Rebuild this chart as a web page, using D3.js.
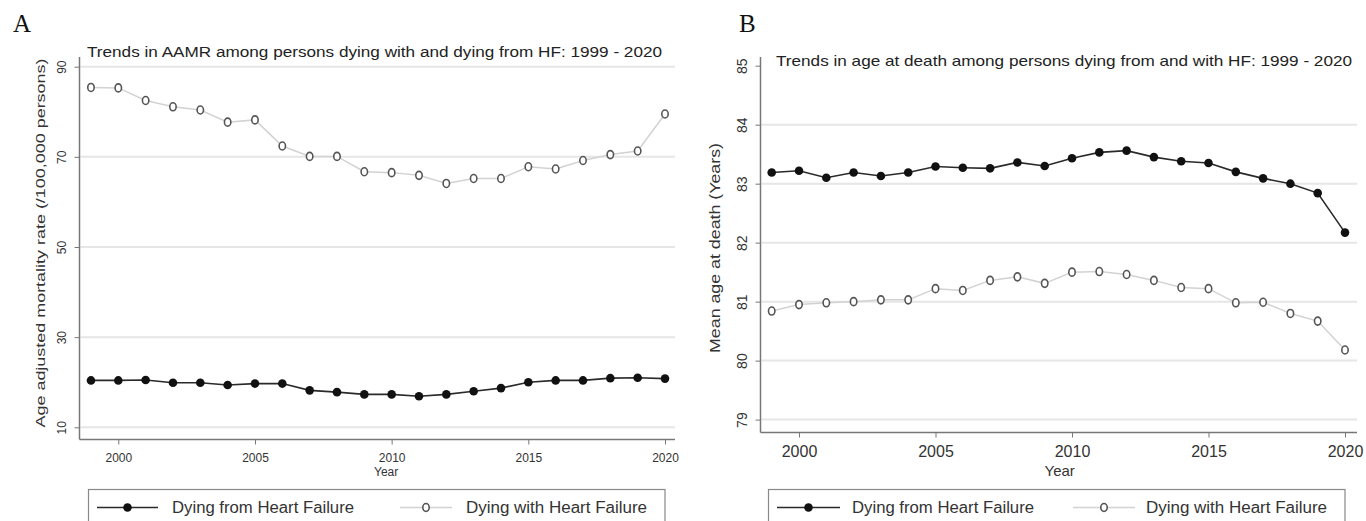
<!DOCTYPE html>
<html>
<head>
<meta charset="utf-8">
<script src="https://cdn.jsdelivr.net/npm/d3@7"></script>
<style>
  html, body { margin: 0; padding: 0; background: #fff; }
  svg { display: block; }
  text { font-family: "Liberation Sans", Arial, Helvetica, sans-serif; fill: #333; }
</style>
</head>
<body>
<svg id="chart" width="1366" height="521"></svg>
<script>
// Years shared by both panels
const years = d3.range(1999, 2021);
const yearTicks = [2000, 2005, 2010, 2015, 2020];

// Panel A: age-adjusted mortality rate per 100,000 persons
const aamrFrom = [20.4, 20.4, 20.5, 19.9, 19.9, 19.4, 19.7, 19.7, 18.2, 17.8, 17.3,
                  17.3, 16.9, 17.3, 18.0, 18.7, 20.0, 20.4, 20.4, 20.9, 21.0, 20.8];
const aamrWith = [85.4, 85.3, 82.5, 81.1, 80.4, 77.7, 78.2, 72.4, 70.1, 70.1, 66.7,
                  66.5, 65.9, 64.1, 65.2, 65.2, 67.8, 67.3, 69.2, 70.5, 71.3, 79.5];
const aamrTicks = [10, 30, 50, 70, 90];
const aamrGrid = [10, 30, 50, 70, 90];

// Panel B: mean age at death (years)
const ageFrom = [83.19, 83.22, 83.10, 83.19, 83.13, 83.19, 83.29, 83.27, 83.26, 83.36, 83.30,
                 83.43, 83.53, 83.56, 83.45, 83.38, 83.35, 83.20, 83.09, 83.00, 82.84, 82.17];
const ageWith = [80.84, 80.95, 80.98, 81.00, 81.03, 81.03, 81.22, 81.19, 81.36, 81.42, 81.31,
                 81.50, 81.51, 81.46, 81.36, 81.24, 81.22, 80.98, 80.99, 80.80, 80.67, 80.18];
const ageTicks = [79, 80, 81, 82, 83, 84, 85];
const ageGrid = [79, 80, 81, 82, 83, 84];

const legendLabels = ["Dying from Heart Failure", "Dying with Heart Failure"];

const svg = d3.select("#chart");

function fitText(sel, width) {
  sel.attr("textLength", width).attr("lengthAdjust", "spacingAndGlyphs");
}

function drawPanel(cfg) {
  const g = svg.append("g");
  const x = d3.scaleLinear().domain([2000, 2020]).range(cfg.xRange);
  const y = d3.scaleLinear().domain(cfg.yDomain).range(cfg.yRange);

  // panel letter
  g.append("text")
    .attr("x", cfg.letterX).attr("y", 32)
    .style("font-family", "'Liberation Serif', 'Times New Roman', serif")
    .style("font-size", "25px").style("fill", "#111")
    .text(cfg.letter);

  // title
  g.append("text")
    .attr("x", cfg.titleX).attr("y", cfg.titleY)
    .attr("dominant-baseline", "central")
    .style("font-size", cfg.titleSize + "px").style("fill", "#222")
    .text(cfg.title)
    .call(fitText, cfg.titleW);

  // horizontal grid lines
  g.append("g")
    .selectAll("line")
    .data(cfg.grid)
    .join("line")
    .attr("x1", cfg.axisX + 1).attr("x2", cfg.axisRight)
    .attr("y1", d => y(d)).attr("y2", d => y(d))
    .attr("stroke", "#e6e6e6").attr("stroke-width", 2);

  // y axis
  const yAxis = g.append("g")
    .attr("transform", `translate(${cfg.axisX},0)`)
    .call(d3.axisLeft(y).tickValues(cfg.yTicks).tickSize(5).tickFormat(d3.format("d")));
  yAxis.select(".domain").remove();
  yAxis.selectAll(".tick line").attr("stroke", "#777");
  yAxis.selectAll(".tick text")
    .attr("x", null).attr("dy", null)
    .attr("transform", `translate(${cfg.yTickLabelX - cfg.axisX},0) rotate(-90)`)
    .attr("text-anchor", "middle")
    .attr("dominant-baseline", "central")
    .style("font-size", cfg.yTickSize + "px")
    .style("font-family", "'Liberation Sans', Arial, sans-serif")
    .style("fill", "#333");
  g.append("line")
    .attr("x1", cfg.axisX).attr("x2", cfg.axisX)
    .attr("y1", cfg.axisTop).attr("y2", cfg.axisY)
    .attr("stroke", "#777").attr("stroke-width", 1.5);

  // x axis
  const xAxis = g.append("g")
    .attr("transform", `translate(0,${cfg.axisY})`)
    .call(d3.axisBottom(x).tickValues(yearTicks).tickSize(5).tickFormat(d3.format("d")));
  xAxis.select(".domain").remove();
  xAxis.selectAll(".tick line").attr("stroke", "#777");
  xAxis.selectAll(".tick text")
    .attr("y", cfg.xTickLabelY - cfg.axisY).attr("dy", null)
    .attr("dominant-baseline", "central")
    .style("font-size", cfg.xTickSize + "px")
    .style("font-family", "'Liberation Sans', Arial, sans-serif")
    .style("fill", "#333");
  g.append("line")
    .attr("x1", cfg.axisX).attr("x2", cfg.axisRight)
    .attr("y1", cfg.axisY).attr("y2", cfg.axisY)
    .attr("stroke", "#777").attr("stroke-width", 1.5);

  // axis titles
  g.append("text")
    .attr("x", x(cfg.yearLabelAt)).attr("y", cfg.yearLabelY)
    .attr("text-anchor", "middle").attr("dominant-baseline", "central")
    .style("font-size", cfg.xTitleSize + "px")
    .text("Year");
  g.append("text")
    .attr("transform", `translate(${cfg.yTitleX},${cfg.yTitleY}) rotate(-90)`)
    .attr("text-anchor", "middle").attr("dominant-baseline", "central")
    .style("font-size", cfg.yTitleSize + "px")
    .text(cfg.yTitle)
    .call(fitText, cfg.yTitleW);

  const line = d3.line().x((d, i) => x(years[i])).y(d => y(d));

  // "dying with" series: light line, hollow markers
  g.append("path")
    .datum(cfg.withVals)
    .attr("d", line)
    .attr("fill", "none").attr("stroke", "#d2d2d2").attr("stroke-width", 1.5);
  g.append("g").selectAll("ellipse")
    .data(cfg.withVals)
    .join("ellipse")
    .attr("cx", (d, i) => x(years[i])).attr("cy", d => y(d))
    .attr("rx", 3.2).attr("ry", 4.0)
    .attr("fill", "#fff").attr("stroke", "#555").attr("stroke-width", 1.6);

  // "dying from" series: dark line, filled markers
  g.append("path")
    .datum(cfg.fromVals)
    .attr("d", line)
    .attr("fill", "none").attr("stroke", "#2a2a2a").attr("stroke-width", 1.6);
  g.append("g").selectAll("circle")
    .data(cfg.fromVals)
    .join("circle")
    .attr("cx", (d, i) => x(years[i])).attr("cy", d => y(d))
    .attr("r", 4.3)
    .attr("fill", "#111");

  // legend box
  const lg = cfg.legend;
  g.append("rect")
    .attr("x", lg.x).attr("y", lg.y)
    .attr("width", lg.w).attr("height", 40)
    .attr("fill", "#fff").attr("stroke", "#888").attr("stroke-width", 1.2);
  const ly = lg.y + 18;
  // from entry
  g.append("line")
    .attr("x1", lg.fromLine[0]).attr("x2", lg.fromLine[1])
    .attr("y1", ly).attr("y2", ly)
    .attr("stroke", "#2a2a2a").attr("stroke-width", 1.6);
  g.append("circle")
    .attr("cx", (lg.fromLine[0] + lg.fromLine[1]) / 2).attr("cy", ly)
    .attr("r", 4.3).attr("fill", "#111");
  g.append("text")
    .attr("x", lg.fromText).attr("y", ly)
    .attr("dominant-baseline", "central")
    .style("font-size", "16px").style("fill", "#333")
    .text(legendLabels[0])
    .call(fitText, 182);
  // with entry
  g.append("line")
    .attr("x1", lg.withLine[0]).attr("x2", lg.withLine[1])
    .attr("y1", ly).attr("y2", ly)
    .attr("stroke", "#d2d2d2").attr("stroke-width", 1.5);
  g.append("ellipse")
    .attr("cx", (lg.withLine[0] + lg.withLine[1]) / 2).attr("cy", ly)
    .attr("rx", 3.2).attr("ry", 4.0)
    .attr("fill", "#fff").attr("stroke", "#555").attr("stroke-width", 1.6);
  g.append("text")
    .attr("x", lg.withText).attr("y", ly)
    .attr("dominant-baseline", "central")
    .style("font-size", "16px").style("fill", "#333")
    .text(legendLabels[1])
    .call(fitText, 181);
}

drawPanel({
  letter: "A", letterX: 13,
  title: "Trends in AAMR among persons dying with and dying from HF: 1999 - 2020",
  titleX: 87, titleY: 52, titleW: 575, titleSize: 14,
  xRange: [118.3, 665], yDomain: [10, 90], yRange: [427.3, 66.7],
  yTicks: aamrTicks, grid: aamrGrid,
  axisX: 79.5, axisTop: 57, axisY: 439.5, axisRight: 675,
  yTickLabelX: 62, yTickSize: 12,
  xTickLabelY: 458, xTickSize: 12,
  yearLabelAt: 2009.8, yearLabelY: 472, xTitleSize: 12,
  yTitle: "Age adjusted mortality rate (/100,000 persons)",
  yTitleX: 40, yTitleY: 243, yTitleW: 369, yTitleSize: 13,
  fromVals: aamrFrom, withVals: aamrWith,
  legend: { x: 88.5, y: 489.5, w: 576.5,
            fromLine: [97, 158], fromText: 172,
            withLine: [400, 452], withText: 466 }
});

drawPanel({
  letter: "B", letterX: 739,
  title: "Trends in age at death among persons dying from and with HF: 1999 - 2020",
  titleX: 776, titleY: 60, titleW: 576, titleSize: 15,
  xRange: [799, 1345], yDomain: [79, 85], yRange: [419.6, 65.7],
  yTicks: ageTicks, grid: ageGrid,
  axisX: 760.5, axisTop: 57, axisY: 432.5, axisRight: 1357,
  yTickLabelX: 742, yTickSize: 14,
  xTickLabelY: 451, xTickSize: 16,
  yearLabelAt: 2009.55, yearLabelY: 470, xTitleSize: 15,
  yTitle: "Mean age at death (Years)",
  yTitleX: 715, yTitleY: 248, yTitleW: 210, yTitleSize: 14,
  fromVals: ageFrom, withVals: ageWith,
  legend: { x: 768.5, y: 489.5, w: 576.5,
            fromLine: [777, 840], fromText: 852,
            withLine: [1073, 1135], withText: 1146 }
});
</script>
</body>
</html>
